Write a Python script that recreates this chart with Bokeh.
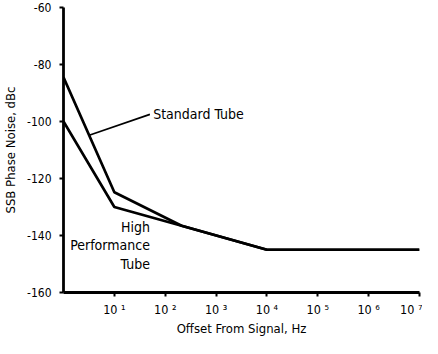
import numpy as np
from bokeh.plotting import figure
from bokeh.models import Range1d, FixedTicker, CustomJSTickFormatter, Label, Segment, ColumnDataSource
from bokeh.embed import file_html
from bokeh.resources import INLINE

# data
std_freq = [1, 10, 210, 1e4, 1e7]
std_noise = [-84.5, -124.8, -136.6, -145, -145]
hp_freq = [1, 10, 210, 1e4, 1e7]
hp_noise = [-100, -130, -136.6, -145, -145]
x_ticks = [10, 100, 1000, 1e4, 1e5, 1e6, 1e7]
y_ticks = [-160, -140, -120, -100, -80, -60]

FONT = "DejaVu Sans Condensed"

p = figure(width=422, height=338, x_axis_type="log",
           x_range=Range1d(1, 1e7), y_range=Range1d(-160, -60),
           output_backend="svg", toolbar_location=None,
           min_border_left=57, min_border_right=3, min_border_top=7, min_border_bottom=46)
p.outline_line_color = None
p.xgrid.visible = False
p.ygrid.visible = False
p.background_fill_color = "white"
p.border_fill_color = "white"

p.line(std_freq, std_noise, line_width=2.7, line_color="black")
p.line(hp_freq, hp_noise, line_width=2.7, line_color="black")

# axes styling
for ax in (p.xaxis[0], p.yaxis[0]):
    ax.axis_line_width = 2.8
    ax.axis_line_color = "black"
    ax.major_tick_line_width = 2
    ax.major_tick_line_color = "black"
    ax.major_tick_in = 0
    ax.major_tick_out = 4
    ax.minor_tick_line_color = None
    ax.major_label_text_font = FONT
    ax.major_label_text_color = "black"
    ax.axis_label_text_font = FONT
    ax.axis_label_text_font_size = "13px"
    ax.axis_label_text_font_style = "normal"
    ax.axis_label_text_color = "black"

p.xaxis.ticker = FixedTicker(ticks=x_ticks)
p.xaxis.formatter = CustomJSTickFormatter(code="""
const sup = {'0':'\u2070','1':'\u00b9','2':'\u00b2','3':'\u00b3','4':'\u2074','5':'\u2075','6':'\u2076','7':'\u2077','8':'\u2078','9':'\u2079'};
const e = Math.round(Math.log10(tick)).toString();
return '10 ' + e.split('').map(c => sup[c]).join('');
""")
p.xaxis.major_label_text_font_size = "12.5px"
p.xaxis.axis_label = "Offset From Signal, Hz"
p.xaxis.major_label_standoff = 5
p.xaxis.axis_label_standoff = 1

p.yaxis.ticker = FixedTicker(ticks=y_ticks)
p.yaxis.major_label_overrides = {v: str(v) for v in y_ticks}
p.yaxis.major_label_text_font_size = "12px"
p.yaxis.axis_label = "SSB Phase Noise, dBc"
p.yaxis.major_label_standoff = 8
p.yaxis.axis_label_standoff = 6

# annotations
lead_x0 = 3.2
lead_y0 = float(np.interp(np.log10(lead_x0), np.log10(std_freq), std_noise))
seg = ColumnDataSource(dict(x0=[lead_x0], y0=[lead_y0], x1=[50], y1=[-97.5]))
p.add_glyph(seg, Segment(x0="x0", y0="y0", x1="x1", y1="y1", line_color="black", line_width=1.6))

p.add_layout(Label(x=58, y=-97.4, text="Standard Tube", text_font=FONT, text_font_size="14px",
                   text_baseline="middle", text_align="left", text_color="black"))
for txt, yy in (("High", -137.0), ("Performance", -143.5), ("Tube", -150.0)):
    p.add_layout(Label(x=50, y=yy, text=txt, text_font=FONT, text_font_size="14px",
                       text_baseline="middle", text_align="right", text_color="black"))

open("out.html", "w").write(file_html(p, INLINE))
